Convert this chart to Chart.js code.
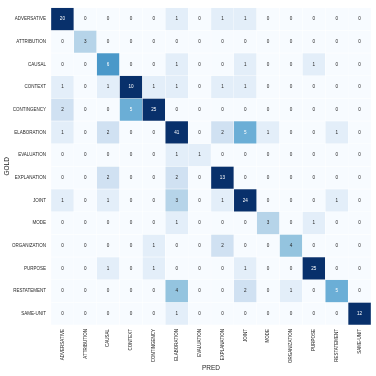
<!DOCTYPE html>
<html>
<head>
<meta charset="utf-8">
<script src="https://cdn.jsdelivr.net/npm/chart.js"></script>
<style>
  html, body { margin: 0; padding: 0; background: #fff; }
  #wrap { width: 376px; height: 376px; }
</style>
</head>
<body>
<div id="wrap"><canvas id="confusion"></canvas></div>
<script>
const classes = ['ADVERSATIVE', 'ATTRIBUTION', 'CAUSAL', 'CONTEXT', 'CONTINGENCY', 'ELABORATION', 'EVALUATION',
  'EXPLANATION', 'JOINT', 'MODE', 'ORGANIZATION', 'PURPOSE', 'RESTATEMENT', 'SAME-UNIT'];

// one row per gold label, columns are predicted labels
const adversative  = [20, 0, 0, 0, 0, 1, 0, 1, 1, 0, 0, 0, 0, 0];
const attribution  = [0, 3, 0, 0, 0, 0, 0, 0, 0, 0, 0, 0, 0, 0];
const causal       = [0, 0, 6, 0, 0, 1, 0, 0, 1, 0, 0, 1, 0, 0];
const context      = [1, 0, 1, 10, 1, 1, 0, 1, 1, 0, 0, 0, 0, 0];
const contingency  = [2, 0, 0, 5, 25, 0, 0, 0, 0, 0, 0, 0, 0, 0];
const elaboration  = [1, 0, 2, 0, 0, 41, 0, 2, 5, 1, 0, 0, 1, 0];
const evaluation   = [0, 0, 0, 0, 0, 1, 1, 0, 0, 0, 0, 0, 0, 0];
const explanation  = [0, 0, 2, 0, 0, 2, 0, 13, 0, 0, 0, 0, 0, 0];
const joint        = [1, 0, 1, 0, 0, 3, 0, 1, 24, 0, 0, 0, 1, 0];
const mode         = [0, 0, 0, 0, 0, 1, 0, 0, 0, 3, 0, 1, 0, 0];
const organization = [0, 0, 0, 0, 1, 0, 0, 2, 0, 0, 4, 0, 0, 0];
const purpose      = [0, 0, 1, 0, 1, 0, 0, 0, 1, 0, 0, 25, 0, 0];
const restatement  = [0, 0, 0, 0, 0, 4, 0, 0, 2, 0, 1, 0, 5, 0];
const sameUnit     = [0, 0, 0, 0, 0, 1, 0, 0, 0, 0, 0, 0, 0, 12];

const counts = [adversative, attribution, causal, context, contingency, elaboration, evaluation,
  explanation, joint, mode, organization, purpose, restatement, sameUnit];

const vmax = 10;
const FONT = 'Liberation Sans, Arial, sans-serif';

// matplotlib "Blues"
const blues = ['#f7fbff', '#deebf7', '#c6dbef', '#9ecae1', '#6baed6', '#4292c6', '#2171b5', '#08519c', '#08306b'];

function hexToRgb(h) {
  return [parseInt(h.slice(1, 3), 16), parseInt(h.slice(3, 5), 16), parseInt(h.slice(5, 7), 16)];
}

function bluesColor(v) {
  let t = Math.max(0, Math.min(1, v / vmax)) * (blues.length - 1);
  let i = Math.min(Math.floor(t), blues.length - 2);
  let f = t - i;
  let a = hexToRgb(blues[i]), b = hexToRgb(blues[i + 1]);
  let c = a.map((x, k) => Math.round(x + (b[k] - x) * f));
  return `rgb(${c[0]},${c[1]},${c[2]})`;
}

const datasets = counts.map((row, r) => ({
  label: classes[r],
  data: row.map(() => [r, r + 1]),
  counts: row,
  backgroundColor: row.map(v => bluesColor(v)),
  borderColor: 'rgba(255,255,255,0.35)',
  borderWidth: 0.5,
  borderSkipped: false,
  grouped: false,
  barPercentage: 1,
  categoryPercentage: 1
}));

const cellText = {
  id: 'cellText',
  afterDatasetsDraw(chart) {
    const ctx = chart.ctx;
    ctx.save();
    ctx.font = `4.6px ${FONT}`;
    ctx.textAlign = 'center';
    ctx.textBaseline = 'middle';
    chart.data.datasets.forEach((ds, di) => {
      chart.getDatasetMeta(di).data.forEach((bar, i) => {
        const v = ds.counts[i];
        const p = bar.getCenterPoint();
        ctx.fillStyle = v >= 5 ? '#ffffff' : '#262626';
        ctx.fillText(String(v), p.x, p.y);
      });
    });
    ctx.restore();
  }
};

new Chart(document.getElementById('confusion'), {
  type: 'bar',
  data: { labels: classes, datasets: datasets },
  plugins: [cellText],
  options: {
    responsive: true,
    maintainAspectRatio: false,
    animation: false,
    layout: { padding: { top: 4, right: 5, left: 0, bottom: 0 } },
    plugins: { legend: { display: false }, tooltip: { enabled: false } },
    scales: {
      x: {
        grid: { display: false, drawTicks: false },
        border: { display: false },
        ticks: { minRotation: 90, maxRotation: 90, autoSkip: false, padding: 4, color: '#262626', font: { family: FONT, size: 4.5 } },
        title: { display: true, text: 'PRED', color: '#262626', font: { family: FONT, size: 6.5 }, padding: { top: 0, bottom: 4 } },
        afterFit(scale) { scale.height = 51; }
      },
      y: {
        type: 'linear',
        min: 0,
        max: classes.length,
        reverse: true,
        grid: { display: false, drawTicks: false },
        border: { display: false },
        afterBuildTicks(scale) { scale.ticks = classes.map((c, i) => ({ value: i + 0.5 })); },
        ticks: {
          padding: 5,
          color: '#262626',
          font: { family: FONT, size: 4.5 },
          callback: (v, i) => classes[i]
        },
        title: { display: true, text: 'GOLD', color: '#262626', font: { family: FONT, size: 6.5 }, padding: { top: 3, bottom: 0 } },
        afterFit(scale) { scale.width = 51; }
      }
    }
  }
});
</script>
</body>
</html>
